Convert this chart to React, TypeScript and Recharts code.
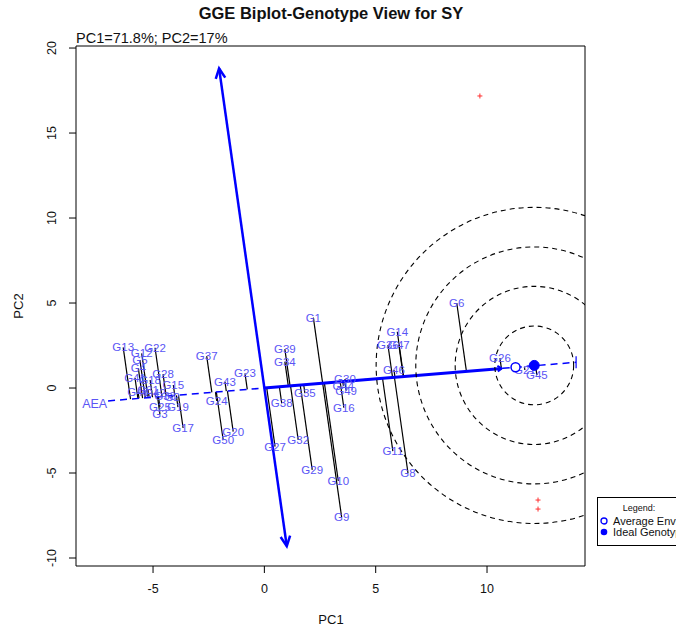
import React from "react";
import {
  ReferenceArea,
  ReferenceLine,
  Scatter,
  ScatterChart,
  XAxis,
  YAxis,
} from "recharts";

// genotype scores (PC1, PC2)
const genotypes = [
  "G1", "G3", "G4", "G5", "G6", "G8", "G9", "G10", "G11", "G12",
  "G13", "G14", "G15", "G16", "G17", "G18", "G19", "G2", "G20", "G21",
  "G22", "G23", "G24", "G25", "G26", "G27", "G28", "G29", "G30", "G31",
  "G32", "G33", "G35", "G36", "G37", "G38", "G39", "G40", "G41", "G42",
  "G43", "G44", "G45", "G46", "G47", "G49", "G50", "G34",
];
const pc1 = [
  2.2, -4.69, -5.66, -5.59, 8.64, 6.45, 3.47, 3.32, 5.77, -5.51,
  -6.34, 5.97, -4.09, 3.57, -3.65, -5.13, -3.88, -4.14, -1.4, 11.7,
  -4.91, -0.87, -2.14, -4.69, 10.58, 0.48, -4.55, 2.15, 3.62, -5.22,
  1.52, -4.46, 1.82, 5.55, -2.59, 0.78, 0.92, -5.67, -5.81, -4.91,
  -1.77, 3.55, 12.24, 5.82, 6.04, 3.67, -1.85, 0.92,
];
const pc2 = [
  4.14, -1.53, 1.16, 1.65, 5.0, -5.0, -7.59, -5.47, -3.71, 2.04,
  2.39, 3.31, 0.18, -1.16, -2.35, 0.47, -1.12, -0.53, -2.57, 1.06,
  2.37, 0.86, -0.76, -1.12, 1.76, -3.45, 0.82, -4.82, 0.53, -0.12,
  -3.06, -0.47, -0.31, 2.53, 1.88, -0.9, 2.29, -0.24, 0.59, -0.29,
  0.37, 0.12, 0.76, 1.06, 2.53, -0.15, -3.06, 1.55,
];

// environment markers (red)
const envPc1 = [9.68, 12.29, 12.29];
const envPc2 = [17.18, -6.59, -7.12];

const avgEnv = [11.28, 1.22];
const idealGeno = [12.12, 1.33];
const ringRadii = [1.77, 3.55, 5.32, 7.1];

const aeaStart = -7.02;
const aeaEnd = 10.66;
const aeaTip = 14.0;
const ordTop = 18.8;
const ordBottom = -9.3;

const X_MIN = -8.46;
const X_MAX = 14.4;
const Y_MIN = -10.47;
const Y_MAX = 20.12;
const X_TICKS = [-5, 0, 5, 10];
const Y_TICKS = [-10, -5, 0, 5, 10, 15, 20];

const PLOT = { left: 76, top: 46, width: 509, height: 520 };
const PX_PER_PC1 = PLOT.width / (X_MAX - X_MIN);
const FONT = "'Liberation Sans', Arial, Helvetica, sans-serif";
const BLUE = "#0000ff";
const LABEL_BLUE = "#5a55f5";

const slope = avgEnv[1] / avgEnv[0];
const project = (x: number, y: number) => {
  const t = (x + slope * y) / (1 + slope * slope);
  return { x: t, y: slope * t };
};

const genoData = genotypes.map((name, i) => ({ name, x: pc1[i], y: pc2[i] }));
const envData = envPc1.map((x, i) => ({ x, y: envPc2[i] }));

const arrowHead = (x1: number, y1: number, x2: number, y2: number, len: number, ang: number) => {
  const a = Math.atan2(y2 - y1, x2 - x1);
  const ax = x2 - len * Math.cos(a - ang);
  const ay = y2 - len * Math.sin(a - ang);
  const bx = x2 - len * Math.cos(a + ang);
  const by = y2 - len * Math.sin(a + ang);
  return `M${ax},${ay} L${x2},${y2} L${bx},${by}`;
};

const DoubleArrow = (props: any) => {
  const { x1, y1, x2, y2 } = props;
  return (
    <g stroke={BLUE} strokeWidth={2.5} fill="none">
      <line x1={x1} y1={y1} x2={x2} y2={y2} />
      <path d={arrowHead(x2, y2, x1, y1, 11, 0.45)} />
      <path d={arrowHead(x1, y1, x2, y2, 11, 0.45)} />
    </g>
  );
};

const ThickAxis = (props: any) => {
  const { x1, y1, x2, y2 } = props;
  return (
    <g stroke={BLUE} fill="none">
      <line x1={x1} y1={y1} x2={x2} y2={y2} strokeWidth={3} />
      <path d={arrowHead(x1, y1, x2, y2, 5, 0.6)} strokeWidth={2} />
    </g>
  );
};

const DashedAxis = (props: any) => {
  const { x1, y1, x2, y2 } = props;
  return (
    <g stroke={BLUE} fill="none">
      <line x1={x1} y1={y1} x2={x2} y2={y2} strokeWidth={1.5} strokeDasharray="7 5" />
      <line x1={x2} y1={y2 - 6} x2={x2} y2={y2 + 6} strokeWidth={1.2} />
    </g>
  );
};

const Rings = (props: any) => {
  const { cx, cy } = props;
  return (
    <g>
      <defs>
        <clipPath id="plotClip">
          <rect x={PLOT.left} y={PLOT.top} width={PLOT.width} height={PLOT.height} />
        </clipPath>
      </defs>
      <g clipPath="url(#plotClip)">
        {ringRadii.map((r) => (
          <circle
            key={r}
            cx={cx}
            cy={cy}
            r={r * PX_PER_PC1}
            fill="none"
            stroke="#000"
            strokeWidth={1.1}
            strokeDasharray="5 4"
          />
        ))}
      </g>
    </g>
  );
};

const GenoLabel = (props: any) => {
  const { cx, cy, payload } = props;
  return (
    <text
      x={cx}
      y={cy}
      textAnchor="middle"
      dominantBaseline="central"
      fontSize={11.5}
      fontFamily={FONT}
      fill={LABEL_BLUE}
    >
      {payload.name}
    </text>
  );
};

const EnvMark = (props: any) => {
  const { cx, cy } = props;
  return (
    <g stroke="#ff3030" strokeWidth={1}>
      <line x1={cx - 2.5} y1={cy} x2={cx + 2.5} y2={cy} />
      <line x1={cx} y1={cy - 2.5} x2={cx} y2={cy + 2.5} />
    </g>
  );
};

const AvgEnvMark = (props: any) => (
  <circle cx={props.cx} cy={props.cy} r={4.5} fill="#fff" stroke={BLUE} strokeWidth={1.5} />
);

const IdealMark = (props: any) => (
  <circle cx={props.cx} cy={props.cy} r={5} fill={BLUE} stroke={BLUE} />
);

const AeaLabel = (props: any) => (
  <text
    x={props.cx}
    y={props.cy}
    textAnchor="middle"
    dominantBaseline="central"
    fontSize={12.5}
    fontFamily={FONT}
    fill={LABEL_BLUE}
  >
    AEA
  </text>
);

const XTick = ({ x, y, payload }: any) => (
  <text x={x} y={y} dy={18} textAnchor="middle" fontSize={12.5} fontFamily={FONT} fill="#111">
    {payload.value}
  </text>
);

const YTick = ({ y, payload }: any) => (
  <text
    x={52}
    y={y}
    transform={`rotate(-90, 52, ${y})`}
    textAnchor="middle"
    dominantBaseline="central"
    fontSize={12.5}
    fontFamily={FONT}
    fill="#111"
  >
    {payload.value}
  </text>
);

const Legend = () => (
  <svg
    width={79}
    height={50}
    style={{ position: "absolute", left: 597, top: 497 }}
  >
    <rect x={0.5} y={0.5} width={100} height={48} fill="#fff" stroke="#000" />
    <text x={42} y={11} textAnchor="middle" dominantBaseline="central" fontSize={9} fontFamily={FONT} fill="#111">
      Legend:
    </text>
    <circle cx={7} cy={24} r={3} fill="#fff" stroke={BLUE} strokeWidth={1.3} />
    <text x={16} y={24} dominantBaseline="central" fontSize={11} fontFamily={FONT} fill="#111">
      Average Environment
    </text>
    <circle cx={7} cy={35} r={3.3} fill={BLUE} />
    <text x={16} y={35} dominantBaseline="central" fontSize={11} fontFamily={FONT} fill="#111">
      Ideal Genotype
    </text>
  </svg>
);

const App = () => {
  return (
    <div style={{ position: "relative", width: 676, height: 630, background: "#fff" }}>
      <style>{`body{margin:0;}`}</style>
      <div
        style={{
          position: "absolute",
          left: 0,
          width: 662,
          top: 4,
          textAlign: "center",
          fontFamily: FONT,
          fontWeight: "bold",
          fontSize: 16.5,
          color: "#111",
        }}
      >
        GGE Biplot-Genotype View for SY
      </div>
      <div
        style={{
          position: "absolute",
          left: 76,
          top: 30,
          fontFamily: FONT,
          fontSize: 14.5,
          color: "#111",
          whiteSpace: "nowrap",
        }}
      >
        PC1=71.8%; PC2=17%
      </div>
      <div
        style={{
          position: "absolute",
          left: 0,
          width: 662,
          top: 612,
          textAlign: "center",
          fontFamily: FONT,
          fontSize: 13,
          color: "#111",
        }}
      >
        PC1
      </div>
      <div
        style={{
          position: "absolute",
          left: 18,
          top: 306,
          transform: "translate(-50%, -50%) rotate(-90deg)",
          fontFamily: FONT,
          fontSize: 13,
          color: "#111",
        }}
      >
        PC2
      </div>
      <ScatterChart
        width={676}
        height={630}
        margin={{ top: 46, right: 91, bottom: 0, left: 0 }}
      >
        <XAxis
          type="number"
          dataKey="x"
          domain={[X_MIN, X_MAX]}
          ticks={X_TICKS}
          allowDataOverflow
          axisLine={false}
          tickSize={7}
          tickLine={{ stroke: "#000" }}
          tick={<XTick />}
          height={64}
          interval={0}
        />
        <YAxis
          type="number"
          dataKey="y"
          domain={[Y_MIN, Y_MAX]}
          ticks={Y_TICKS}
          allowDataOverflow
          axisLine={false}
          tickSize={7}
          tickLine={{ stroke: "#000" }}
          tick={<YTick />}
          width={76}
          interval={0}
        />
        <ReferenceArea
          x1={X_MIN}
          x2={X_MAX}
          y1={Y_MIN}
          y2={Y_MAX}
          fill="none"
          stroke="#000"
          strokeWidth={1}
          fillOpacity={0}
          ifOverflow="visible"
        />
        <Scatter data={[{ x: idealGeno[0], y: idealGeno[1] }]} shape={<Rings />} isAnimationActive={false} />
        {genoData.map((g) => {
          const p = project(g.x, g.y);
          return (
            <ReferenceLine
              key={`seg-${g.name}`}
              segment={[{ x: g.x, y: g.y }, { x: p.x, y: p.y }]}
              stroke="#000"
              strokeWidth={1.2}
              ifOverflow="visible"
            />
          );
        })}
        <ReferenceLine
          segment={[
            { x: aeaStart, y: slope * aeaStart },
            { x: aeaTip, y: slope * aeaTip },
          ]}
          shape={<DashedAxis />}
          ifOverflow="visible"
        />
        <ReferenceLine
          segment={[
            { x: 0, y: 0 },
            { x: aeaEnd, y: slope * aeaEnd },
          ]}
          shape={<ThickAxis />}
          ifOverflow="visible"
        />
        <ReferenceLine
          segment={[
            { x: -slope * ordTop, y: ordTop },
            { x: -slope * ordBottom, y: ordBottom },
          ]}
          shape={<DoubleArrow />}
          ifOverflow="visible"
        />
        <Scatter data={genoData} shape={<GenoLabel />} isAnimationActive={false} />
        <Scatter
          data={[{ x: aeaStart - 0.6, y: slope * aeaStart - 0.2 }]}
          shape={<AeaLabel />}
          isAnimationActive={false}
        />
        <Scatter data={envData} shape={<EnvMark />} isAnimationActive={false} />
        <Scatter data={[{ x: avgEnv[0], y: avgEnv[1] }]} shape={<AvgEnvMark />} isAnimationActive={false} />
        <Scatter data={[{ x: idealGeno[0], y: idealGeno[1] }]} shape={<IdealMark />} isAnimationActive={false} />
      </ScatterChart>
      <Legend />
    </div>
  );
};

export default App;
